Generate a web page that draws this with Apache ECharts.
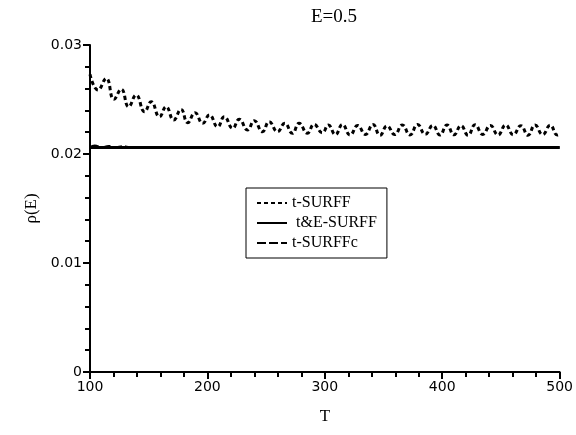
<!DOCTYPE html>
<html>
<head>
<meta charset="utf-8">
<script src="https://cdn.jsdelivr.net/npm/echarts@6/dist/echarts.min.js"></script>
<style>
  html, body { margin: 0; padding: 0; background: #fff; }
  #main { width: 576px; height: 435px; }
</style>
</head>
<body>
<div id="main"></div>
<script>
// t-SURFF: peaks and troughs
var tSurffT = [100, 106.8, 113.8, 120.4, 126.6, 132.9, 139.3, 146.5, 152.1, 159.2,
  164.8, 171.3, 177.5, 183.2, 189.4, 196, 201.7, 208.7, 214.4, 221.5,
  227.1, 234.2, 239.9, 246.9, 252.6, 259.7, 265.9, 272.4, 278.1, 285.1,
  290.8, 297.9, 303, 309, 315, 321.5, 328, 334.5, 341, 347,
  353, 359.5, 366, 372.5, 379, 385.5, 392, 398, 404, 410,
  416, 422, 428, 434.5, 441, 447.5, 454, 460.5, 467, 473,
  479, 485.5, 492, 498, 500];
var tSurffV = [0.0273, 0.02587, 0.02694, 0.02502, 0.02594, 0.02434, 0.02541, 0.02388, 0.0248, 0.02342,
  0.02434, 0.02312, 0.0241, 0.02287, 0.02379, 0.02282, 0.02358, 0.0225, 0.02342, 0.02236,
  0.02318, 0.0222, 0.02306, 0.02205, 0.02296, 0.02205, 0.02282, 0.0219, 0.02282, 0.0219,
  0.02272, 0.02195, 0.02266, 0.02178, 0.0227, 0.02174, 0.02262, 0.0218, 0.0227, 0.02172,
  0.02258, 0.02178, 0.02266, 0.02174, 0.0227, 0.0218, 0.02262, 0.02174, 0.02266, 0.02176,
  0.0226, 0.02172, 0.02268, 0.0218, 0.02262, 0.02174, 0.02266, 0.02176, 0.0226, 0.02172,
  0.02266, 0.02178, 0.02264, 0.02174, 0.0218];

// t&E-SURFF: flat
var teSurffT = [100, 200, 300, 400, 500];
var teSurffV = [0.0206, 0.0206, 0.0206, 0.0206, 0.0206];

// t-SURFFc: tiny wiggle at the start, then on top of t&E-SURFF
var tSurffcT = [100, 104, 110, 116, 122, 128, 134, 200, 300, 400, 500];
var tSurffcV = [0.0206, 0.02075, 0.0206, 0.02072, 0.0206, 0.0207, 0.0206, 0.0206, 0.0206, 0.0206, 0.0206];

function pairs(xs, ys) {
  var out = [];
  for (var i = 0; i < xs.length; i++) out.push([xs[i], ys[i]]);
  return out;
}

var serif = "Liberation Serif";
var sans = "DejaVu Sans";

var chart = echarts.init(document.getElementById("main"), null, { renderer: "canvas" });
chart.setOption({
  animation: false,
  backgroundColor: "#fff",
  color: ["#000", "#000", "#000"],
  title: {
    text: "E=0.5",
    left: 306,
    top: 3,
    textStyle: { fontFamily: serif, fontSize: 19, fontWeight: "normal", color: "#000" }
  },
  grid: { left: 90, right: 15, top: 45, bottom: 63 },
  legend: {
    orient: "vertical",
    left: 246,
    top: 188,
    padding: [7, 10, 7, 10],
    itemGap: 4,
    itemWidth: 30,
    itemHeight: 14,
    borderColor: "#000",
    borderWidth: 1,
    borderRadius: 0,
    itemStyle: { opacity: 0 },
    textStyle: { fontFamily: serif, fontSize: 16, color: "#000" },
    data: ["t-SURFF", " t&E-SURFF", "t-SURFFc"]
  },
  xAxis: {
    type: "value",
    min: 100,
    max: 500,
    interval: 100,
    name: "T",
    nameLocation: "middle",
    nameGap: 36,
    nameTextStyle: { fontFamily: serif, fontSize: 17, color: "#000" },
    axisLine: { onZero: false, lineStyle: { color: "#000", width: 2 } },
    axisTick: { length: 7, lineStyle: { color: "#000", width: 2 } },
    minorTick: { show: true, splitNumber: 5, length: 5, lineStyle: { color: "#000", width: 2 } },
    splitLine: { show: false },
    axisLabel: { fontFamily: sans, fontSize: 14, color: "#000", margin: 8 }
  },
  yAxis: {
    type: "value",
    min: 0,
    max: 0.03,
    interval: 0.01,
    name: "ρ(E)",
    nameLocation: "middle",
    nameGap: 46,
    nameTextStyle: { fontFamily: serif, fontSize: 17, color: "#000" },
    axisLine: { show: true, lineStyle: { color: "#000", width: 2 } },
    axisTick: { show: true, length: 7, lineStyle: { color: "#000", width: 2 } },
    minorTick: { show: true, splitNumber: 5, length: 5, lineStyle: { color: "#000", width: 2 } },
    splitLine: { show: false },
    axisLabel: {
      fontFamily: sans, fontSize: 14, color: "#000", margin: 8,
      formatter: function (v) { return v === 0 ? "0" : v.toFixed(2); }
    }
  },
  series: [
    {
      name: "t-SURFFc",
      type: "line",
      symbol: "none",
      smooth: true,
      data: pairs(tSurffcT, tSurffcV),
      lineStyle: { color: "#000", width: 2.5, type: [9, 3] },
      z: 2
    },
    {
      name: " t&E-SURFF",
      type: "line",
      symbol: "none",
      data: pairs(teSurffT, teSurffV),
      lineStyle: { color: "#000", width: 3, type: "solid" },
      z: 3
    },
    {
      name: "t-SURFF",
      type: "line",
      symbol: "none",
      smooth: 0.5,
      data: pairs(tSurffT, tSurffV),
      lineStyle: { color: "#000", width: 3, type: [4, 3] },
      z: 4
    }
  ]
});
</script>
</body>
</html>
